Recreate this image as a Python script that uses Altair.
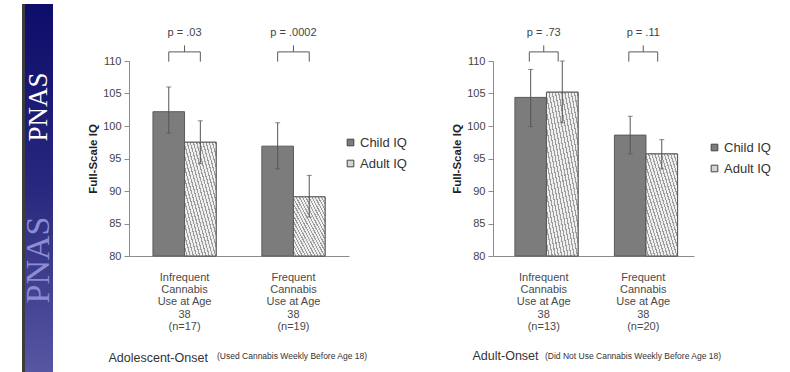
import altair as alt
import pandas as pd

# ---------------- data ----------------
series = ["Child IQ", "Adult IQ"]

left_groups = ["Infrequent|Cannabis|Use at Age|38|(n=17)", "Frequent|Cannabis|Use at Age|38|(n=19)"]
left_child = [102.2, 96.9]
left_child_lo = [98.9, 93.4]
left_child_hi = [106.0, 100.5]
left_adult = [97.5, 89.1]
left_adult_lo = [94.2, 86.0]
left_adult_hi = [100.8, 92.4]
left_p = ["p = .03", "p = .0002"]

right_groups = ["Infrequent|Cannabis|Use at Age|38|(n=13)", "Frequent|Cannabis|Use at Age|38|(n=20)"]
right_child = [104.4, 98.6]
right_child_lo = [99.9, 95.7]
right_child_hi = [108.7, 101.5]
right_adult = [105.2, 95.7]
right_adult_lo = [100.5, 93.4]
right_adult_hi = [110.0, 97.9]
right_p = ["p = .73", "p = .11"]

y_ticks = [80, 85, 90, 95, 100, 105, 110]

FONT = "Liberation Sans"
LINE = "#5a5a5a"

# diagonal hatch as a striped gradient
stops = []
N = 20
for i in range(N):
    a, b, c = i / N, (i + 0.62) / N, (i + 1) / N
    stops += [
        {"offset": a, "color": "#efefef"},
        {"offset": b, "color": "#efefef"},
        {"offset": b, "color": "#9c9c9c"},
        {"offset": c, "color": "#9c9c9c"},
    ]
hatch = {"gradient": "linear", "x1": 0, "y1": 1, "x2": 1, "y2": 0, "stops": stops}


def panel(groups, child, child_lo, child_hi, adult, adult_lo, adult_hi, pvals,
          onset, note, width, leg_x, leg_y, title_y, note_dx, note_dy, banner=False):
    rows = []
    for i, g in enumerate(groups):
        rows.append({"group": g, "series": series[0], "value": child[i], "lo": child_lo[i], "hi": child_hi[i]})
        rows.append({"group": g, "series": series[1], "value": adult[i], "lo": adult_lo[i], "hi": adult_hi[i]})
    df = pd.DataFrame(rows)
    pdf = pd.DataFrame({"group": groups, "p": pvals})

    xscale = alt.Scale(domain=groups, paddingInner=0.42, paddingOuter=0.22)
    xaxis = alt.Axis(
        title=onset, labelExpr="split(datum.label, '|')", labelAngle=0, ticks=False,
        tickSize=0, labelPadding=15, labelLineHeight=12.4, labelFont=FONT,
        labelFontSize=11, labelColor="#4a4a4a", domainColor="#8c8c8c",
        titleX=-21, titleY=title_y, titleAlign="left", titleBaseline="middle",
        titleAnchor="start", titleFontSize=12.5, titleFontWeight="normal",
        titleColor="#333333", titleFont=FONT,
    )

    def X(bp=None):
        if bp is None:
            return alt.X("group:N", scale=xscale, sort=groups, axis=xaxis)
        return alt.X("group:N", scale=xscale, sort=groups, axis=xaxis, bandPosition=bp)

    XO = alt.XOffset("series:N", scale=alt.Scale(domain=series, paddingInner=0, paddingOuter=0))
    yscale = alt.Scale(domain=[80, 110], nice=False, zero=False)
    yaxis = alt.Axis(
        values=y_ticks, title="Full-Scale IQ", titleFontWeight="bold", titleFontSize=11.5,
        titleColor="#222222", titleFont=FONT, titlePadding=4, labelFont=FONT,
        labelFontSize=11, labelColor="#444444", tickSize=5, tickColor="#8c8c8c",
        domainColor="#8c8c8c", grid=False, labelPadding=3, labelOverlap=False,
    )

    def Y(field):
        return alt.Y(field, scale=yscale, axis=yaxis, title="Full-Scale IQ")

    def YD(v):
        return alt.YDatum(v, scale=yscale, axis=yaxis, title="Full-Scale IQ")

    base = alt.Chart(df)
    bars = base.mark_bar(stroke=LINE, strokeWidth=1).encode(
        x=X(), xOffset=XO, y=Y("value:Q"), y2=alt.datum(80),
        color=alt.Color(
            "series:N",
            scale=alt.Scale(domain=series, range=["#7c7c7c", "#d4d4d4"]),
            legend=alt.Legend(
                title=None, orient="none", legendX=leg_x, legendY=leg_y,
                symbolType="square", symbolSize=44, symbolStrokeColor="#444444",
                symbolStrokeWidth=1, labelFont=FONT, labelFontSize=13,
                labelColor="#333333", rowPadding=7, labelOffset=3,
            ),
        ),
    )
    hatched = base.transform_filter(alt.datum.series == series[1]).mark_bar(
        fill=hatch, stroke=LINE, strokeWidth=1
    ).encode(x=X(), xOffset=XO, y=Y("value:Q"), y2=alt.datum(80))
    err = base.mark_rule(color="#555555", strokeWidth=1).encode(
        x=X(), xOffset=XO, y=Y("lo:Q"), y2="hi:Q")
    cap_lo = base.mark_tick(color="#555555", size=5, thickness=1).encode(
        x=X(), xOffset=XO, y=Y("lo:Q"))
    cap_hi = base.mark_tick(color="#555555", size=5, thickness=1).encode(
        x=X(), xOffset=XO, y=Y("hi:Q"))

    pb = alt.Chart(pdf)
    hline = pb.mark_rule(color=LINE, strokeWidth=1).encode(
        x=X(0.25), x2=alt.X2("group:N", bandPosition=0.75), y=YD(111.4))
    lend = pb.mark_rule(color=LINE, strokeWidth=1).encode(
        x=X(0.25), y=YD(109.9), y2=alt.datum(111.4))
    rend = pb.mark_rule(color=LINE, strokeWidth=1).encode(
        x=X(0.75), y=YD(109.9), y2=alt.datum(111.4))
    mid = pb.mark_rule(color=LINE, strokeWidth=1).encode(
        x=X(0.5), y=YD(111.4), y2=alt.datum(112.4))
    ptext = pb.mark_text(font=FONT, fontSize=11, color="#444444").encode(
        x=X(0.5), y=YD(114.3), text="p:N")

    layers = []
    if banner:
        one = alt.Chart(pd.DataFrame({"k": [0]}))
        band_fill = {"gradient": "linear", "x1": 0, "y1": 0, "x2": 0, "y2": 1,
                     "stops": [{"offset": 0, "color": "#0d0d6a"},
                               {"offset": 0.5, "color": "#28287f"},
                               {"offset": 1, "color": "#5656a2"}]}
        layers.append(one.mark_rect(fill=band_fill).encode(
            x=alt.value(-106), x2=alt.value(-76), y=alt.value(-57), y2=alt.value(311)))
        layers.append(one.mark_rect(fill="#3c3c3c").encode(
            x=alt.value(-107), x2=alt.value(-104), y=alt.value(-57), y2=alt.value(311)))
        layers.append(one.mark_text(angle=270, font="Liberation Serif", fontSize=27,
                                    color="white").encode(
            x=alt.value(-90), y=alt.value(46), text=alt.value("PNAS")))
        layers.append(one.mark_text(angle=270, font="Liberation Serif", fontSize=34,
                                    color="#8c8cd2").encode(
            x=alt.value(-90), y=alt.value(199), text=alt.value("PNAS")))

    layers += [bars, hatched, err, cap_lo, cap_hi, hline, lend, rend, mid, ptext]
    return alt.layer(*layers).properties(
        width=width, height=195,
        title=alt.TitleParams(note, orient="bottom", anchor="start", frame="group",
                              dx=note_dx, dy=note_dy, offset=0, baseline="middle",
                              font=FONT, fontSize=8.5, fontWeight="normal",
                              color="#333333"),
    )


left = panel(left_groups, left_child, left_child_lo, left_child_hi, left_adult,
             left_adult_lo, left_adult_hi, left_p, "Adolescent-Onset",
             "(Used Cannabis Weekly Before Age 18)", 220, 215, 75, 101, 88, -16, banner=True)
right = panel(right_groups, right_child, right_child_lo, right_child_hi, right_adult,
              right_adult_lo, right_adult_hi, right_p, "Adult-Onset",
              "(Did Not Use Cannabis Weekly Before Age 18)", 201, 215, 80, 99, 52, -6)

chart = alt.hconcat(left, right, spacing=44).resolve_scale(
    color="independent", x="independent", y="independent"
).resolve_legend(color="independent").properties(
    padding={"left": 22, "top": 4, "right": 0, "bottom": 0},
    background="white",
).configure(font=FONT).configure_view(stroke="transparent", strokeWidth=0)

chart.save("out.html", embed_options={"renderer": "svg", "actions": False})
